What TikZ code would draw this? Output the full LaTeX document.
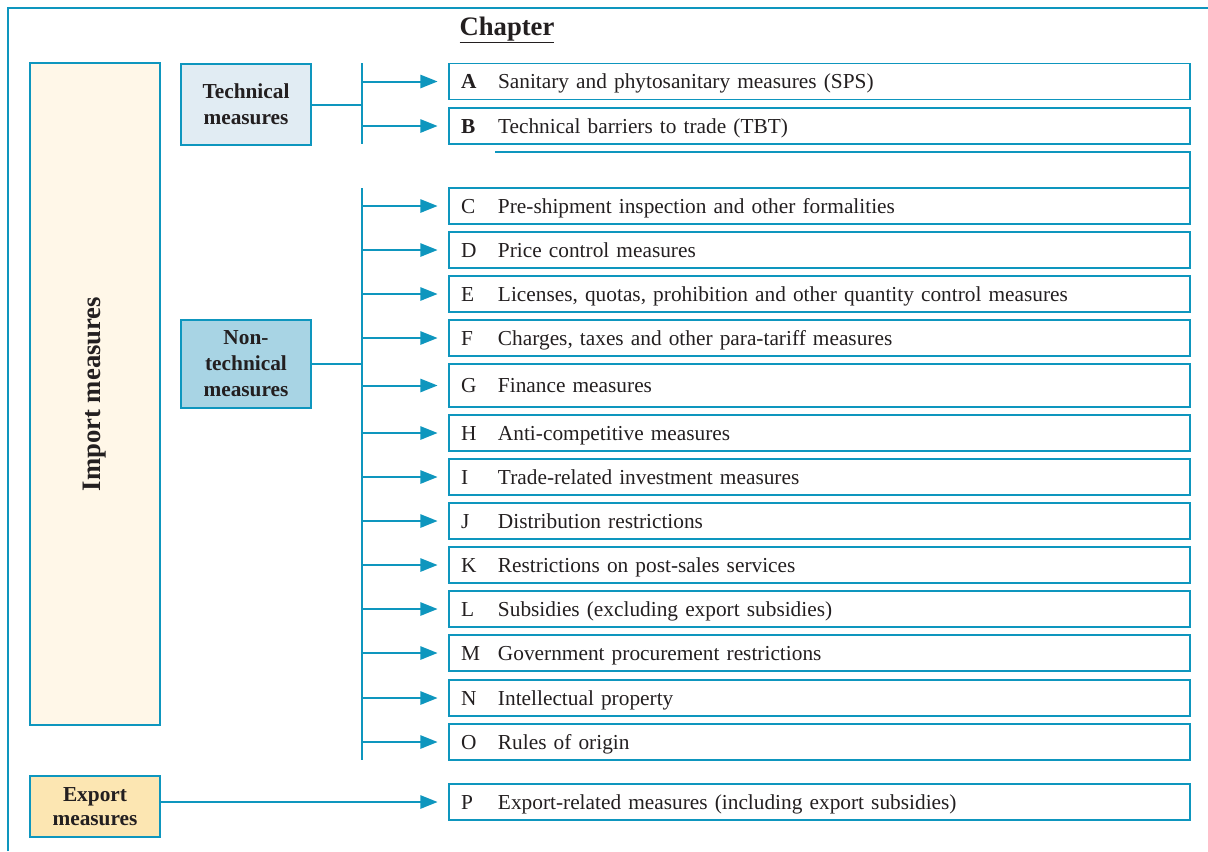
\documentclass[tikz,border=0pt]{standalone}
\usepackage{fontspec}
\setmainfont{Liberation Serif}
\usepackage{xcolor}
\usetikzlibrary{arrows.meta,positioning}

\definecolor{ntmblue}{RGB}{14,150,190}
\definecolor{ntmink}{RGB}{35,31,32}
\definecolor{importfill}{RGB}{255,247,232}
\definecolor{techfill}{RGB}{225,236,243}
\definecolor{nontechfill}{RGB}{168,212,228}
\definecolor{exportfill}{RGB}{252,230,178}

\newcommand{\chapcode}[1]{\makebox[27.75pt][l]{#1}}

\begin{document}
\begin{tikzpicture}[
    x=0.75pt, y=-0.75pt,
    frame/.style={draw=ntmblue, line width=1.5pt},
    group/.style={rectangle, draw=ntmblue, line width=1.6pt, minimum width=97.5pt, inner sep=0pt, text width=92pt, align=center, text=ntmink, font=\fontsize{16}{19.5}\selectfont\bfseries},
    chap/.style={rectangle, draw=ntmblue, line width=1.1pt, minimum width=555.75pt, minimum height=27pt, text width=537.75pt, text height=12.5pt, text depth=1.3pt, inner xsep=9pt, inner ysep=0pt, align=left, text=ntmink, font=\fontsize{16}{19}\selectfont},
    chapline/.style={draw=ntmblue, line width=1.1pt},
    bar/.style={draw=ntmblue, line width=1.5pt},
    arrow/.style={-{Triangle[length=13pt,width=10pt]}, draw=ntmblue, fill=ntmblue, line width=1.5pt, shorten >=8pt}
]
\useasboundingbox (0,0) rectangle (1208,851);

% Frame and title
\draw[frame] (8,851) -- (8,8) -- (1208,8);
\node[text=ntmink, font=\fontsize{20}{24}\selectfont\bfseries] (title) at (507,30) {\underline{Chapter}};

% Groups
\node[group, rotate=90, minimum width=496.5pt, minimum height=97.5pt, text width=, fill=importfill, font=\fontsize{20}{24}\selectfont\bfseries] (import) at (95,394) {Import measures};
\node[group, minimum height=60.75pt, fill=techfill] (tech) at (246,104.5) {Technical\\measures};
\node[group, minimum height=66pt, fill=nontechfill] (nontech) at (246,364) {Non-\\technical\\measures};
\node[group, minimum height=45.75pt, fill=exportfill, font=\fontsize{16}{18}\selectfont\bfseries] (export) at (95,806.5) {Export\\measures};

% Chapters
\node[chap] (chA) at (819.5,81.5) {\chapcode{\textbf{A}}Sanitary and phytosanitary measures (SPS)};
\node[chap] (chB) at (819.5,126) {\chapcode{\textbf{B}}Technical barriers to trade (TBT)};
\draw[chapline] (495,152) -- (1190,152) -- (1190,188);
\node[chap] (chC) at (819.5,206) {\chapcode{C}Pre-shipment inspection and other formalities};
\node[chap] (chD) at (819.5,250) {\chapcode{D}Price control measures};
\node[chap] (chE) at (819.5,294) {\chapcode{E}Licenses, quotas, prohibition and other quantity control measures};
\node[chap] (chF) at (819.5,338) {\chapcode{F}Charges, taxes and other para-tariff measures};
\node[chap, minimum height=32.25pt] (chG) at (819.5,385.5) {\chapcode{G}Finance measures};
\node[chap] (chH) at (819.5,433) {\chapcode{H}Anti-competitive measures};
\node[chap] (chI) at (819.5,477) {\chapcode{I}Trade-related investment measures};
\node[chap] (chJ) at (819.5,521) {\chapcode{J}Distribution restrictions};
\node[chap] (chK) at (819.5,565) {\chapcode{K}Restrictions on post-sales services};
\node[chap] (chL) at (819.5,609) {\chapcode{L}Subsidies (excluding export subsidies)};
\node[chap] (chM) at (819.5,653) {\chapcode{M}Government procurement restrictions};
\node[chap] (chN) at (819.5,698) {\chapcode{N}Intellectual property};
\node[chap] (chO) at (819.5,742) {\chapcode{O}Rules of origin};
\node[chap] (chP) at (819.5,802) {\chapcode{P}Export-related measures (including export subsidies)};

% Brackets
\coordinate (ttop) at (362,63);
\coordinate (tbot) at (362,144);
\coordinate (ntop) at (362,188);
\coordinate (nbot) at (362,760);
\draw[bar] (ttop) -- (tbot);
\draw[bar] (ntop) -- (nbot);
\draw[bar] (tech.east) -- (tech.east -| ttop);
\draw[bar] (nontech.east) -- (nontech.east -| ntop);

% Arrows
\draw[arrow] (chA.west -| ttop) -- (chA.west);
\draw[arrow] (chB.west -| ttop) -- (chB.west);
\draw[arrow] (chC.west -| ntop) -- (chC.west);
\draw[arrow] (chD.west -| ntop) -- (chD.west);
\draw[arrow] (chE.west -| ntop) -- (chE.west);
\draw[arrow] (chF.west -| ntop) -- (chF.west);
\draw[arrow] (chG.west -| ntop) -- (chG.west);
\draw[arrow] (chH.west -| ntop) -- (chH.west);
\draw[arrow] (chI.west -| ntop) -- (chI.west);
\draw[arrow] (chJ.west -| ntop) -- (chJ.west);
\draw[arrow] (chK.west -| ntop) -- (chK.west);
\draw[arrow] (chL.west -| ntop) -- (chL.west);
\draw[arrow] (chM.west -| ntop) -- (chM.west);
\draw[arrow] (chN.west -| ntop) -- (chN.west);
\draw[arrow] (chO.west -| ntop) -- (chO.west);
\draw[arrow] (chP.west -| export.east) -- (chP.west);

\end{tikzpicture}
\end{document}
